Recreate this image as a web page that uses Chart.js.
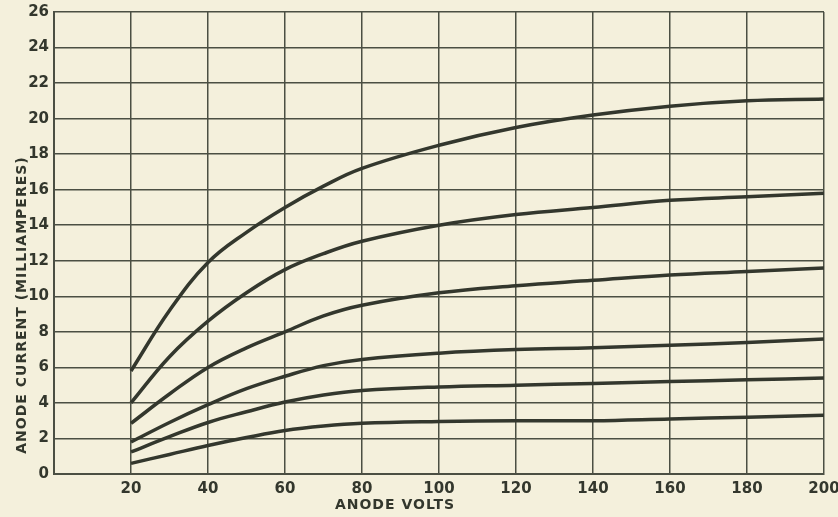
<!DOCTYPE html>
<html>
<head>
<meta charset="utf-8">
<script src="https://cdn.jsdelivr.net/npm/chart.js@4"></script>
<style>
  html, body { margin: 0; padding: 0; background: #f4f0dc; }
  #wrap { width: 838px; height: 517px; position: relative; }
</style>
</head>
<body>
<div id="wrap"><canvas id="anodeChart"></canvas></div>
<script>
// anode volts where the curves were read
const volts = [20, 30, 40, 50, 60, 70, 80, 100, 120, 140, 160, 180, 200];

// anode current (mA), one curve per grid bias, top to bottom
const curve1 = [5.8, 9.2, 11.9, 13.6, 15.0, 16.2, 17.2, 18.5, 19.5, 20.2, 20.7, 21.0, 21.1];
const curve2 = [4.0, 6.6, 8.6, 10.2, 11.5, 12.4, 13.1, 14.0, 14.6, 15.0, 15.4, 15.6, 15.8];
const curve3 = [2.85, 4.5, 6.0, 7.1, 8.0, 8.9, 9.5, 10.2, 10.6, 10.9, 11.2, 11.4, 11.6];
const curve4 = [1.8, 2.9, 3.9, 4.8, 5.5, 6.1, 6.45, 6.8, 7.0, 7.1, 7.25, 7.4, 7.6];
const curve5 = [1.24, 2.1, 2.9, 3.5, 4.05, 4.45, 4.7, 4.9, 5.0, 5.1, 5.2, 5.3, 5.4];
const curve6 = [0.6, 1.1, 1.6, 2.05, 2.45, 2.7, 2.85, 2.95, 3.0, 3.0, 3.1, 3.2, 3.3];

const xTitle = 'ANODE VOLTS';
const yTitle = 'ANODE CURRENT (MILLIAMPERES)';

const ink = '#33372d';
const gridInk = '#4b4f43';
const labelFont = { family: 'DejaVu Sans', size: 15, weight: 'bold' };

function toPoints(arr) {
  return arr.map((v, i) => ({ x: volts[i], y: v }));
}

// hand lettered axis titles sit off centre in the original
const axisTitles = {
  id: 'axisTitles',
  afterDraw(chart) {
    const ctx = chart.ctx;
    const area = chart.chartArea;
    ctx.save();
    ctx.fillStyle = ink;
    ctx.font = 'bold 14px "DejaVu Sans"';
    ctx.letterSpacing = '1px';
    ctx.textAlign = 'center';
    ctx.textBaseline = 'middle';
    ctx.fillText(xTitle, area.left + 341, area.bottom + 31);
    ctx.translate(22, area.bottom - 169);
    ctx.rotate(-Math.PI / 2);
    ctx.fillText(yTitle, 0, 0);
    ctx.restore();
  }
};

const ctx = document.getElementById('anodeChart').getContext('2d');
const makeSet = (data, i) => ({
  label: 'curve ' + (i + 1),
  data: toPoints(data),
  borderColor: ink,
  borderWidth: 3.5,
  pointRadius: 0,
  fill: false,
  tension: 0.4
});

new Chart(ctx, {
  type: 'line',
  data: {
    datasets: [curve1, curve2, curve3, curve4, curve5, curve6].map(makeSet)
  },
  options: {
    responsive: true,
    maintainAspectRatio: false,
    animation: false,
    layout: { padding: { top: 12, right: 14, left: 0, bottom: 0 } },
    plugins: {
      legend: { display: false },
      tooltip: { enabled: false }
    },
    scales: {
      x: {
        type: 'linear',
        min: 0,
        max: 200,
        afterFit: s => { s.height = 43; s.paddingLeft = 0; s.paddingRight = 0; },
        border: { color: gridInk, width: 2 },
        grid: { color: gridInk, lineWidth: 1.5, drawTicks: false },
        ticks: {
          stepSize: 20,
          padding: 6,
          color: ink,
          font: labelFont,
          maxRotation: 0,
          callback: v => (v === 0 ? '' : v)
        }
      },
      y: {
        min: 0,
        max: 26,
        afterFit: s => { s.width = 54; s.paddingTop = 0; s.paddingBottom = 0; },
        border: { color: gridInk, width: 2 },
        grid: { color: gridInk, lineWidth: 1.5, drawTicks: false },
        ticks: {
          stepSize: 2,
          padding: 5,
          color: ink,
          font: labelFont
        }
      }
    }
  },
  plugins: [axisTitles]
});
</script>
</body>
</html>
